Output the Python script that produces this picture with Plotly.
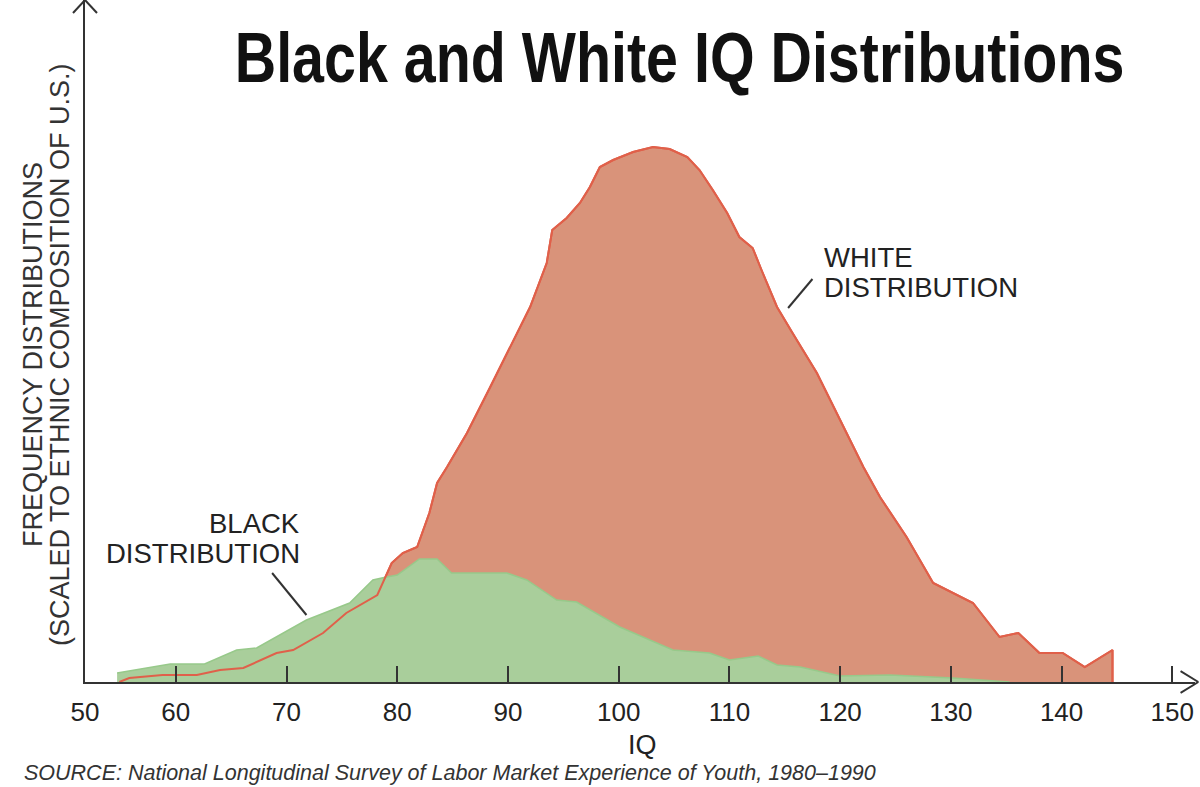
import plotly.graph_objects as go

# IQ distribution curves, heights (arbitrary frequency units)
white_iq = [54.9, 55.8, 58.8, 61.9, 64.0, 66.1, 69.1, 70.6, 73.3, 75.4, 78.2, 78.7, 79.5, 80.5,
            81.8, 82.9, 83.6, 84.5, 86.3, 88.4, 90.4, 92.0, 93.5, 94.0, 95.3, 96.5, 97.4, 98.3,
            99.5, 101.3, 103.1, 104.6, 106.2, 107.3, 108.5, 109.8, 110.9, 112.1, 112.9, 114.3,
            115.7, 117.9, 120.0, 122.1, 123.6, 126.0, 128.4, 130.2, 132.0, 134.4, 136.1, 138.0,
            140.1, 142.1, 144.6, 144.6]
white_freq = [0, 4, 7, 7, 12, 14, 29, 32, 49, 69, 87, 100, 119, 129,
              135, 169, 199, 215, 249, 295, 339, 375, 419, 452, 464, 479, 495, 515,
              522, 530, 535, 533, 525, 512, 492, 469, 445, 434, 412, 375,
              349, 309, 262, 215, 185, 145, 99, 89, 79, 45, 49, 29,
              29, 15, 32, 0]

black_iq = [54.7, 59.5, 62.6, 65.5, 67.3, 71.8, 75.7, 77.8, 78.6, 80.0, 82.0, 83.6, 84.9,
            89.9, 91.7, 94.4, 96.2, 100.1, 104.9, 108.2, 110.0, 112.6, 114.3, 116.4, 120.0,
            124.5, 130.2, 135.3]
black_freq = [9, 18, 18, 32, 34, 62, 79, 102, 104, 107, 123, 123, 109,
              109, 102, 82, 80, 55, 32, 29, 22, 26, 17, 15, 6,
              7, 4, 0]

tick_vals = [51.8, 60, 70, 80, 90, 100, 110, 120, 130, 140, 150]
tick_text = ["50", "60", "70", "80", "90", "100", "110", "120", "130", "140", "150"]

RED_FILL = "#D9937A"
RED_LINE = "#E0604A"
GREEN_FILL = "#A9CE9B"
GREEN_LINE = "#97C98A"
AXIS = "#333333"
FONT = "Liberation Sans, Arial, sans-serif"
TITLE = "Black and White IQ Distributions"

fig = go.Figure()
fig.add_trace(go.Scatter(x=white_iq, y=white_freq, mode="lines", fill="tozeroy",
                         fillcolor=RED_FILL, line=dict(color=RED_LINE, width=2),
                         name="White", hoverinfo="x+y"))
fig.add_trace(go.Scatter(x=black_iq, y=black_freq, mode="lines", fill="tozeroy",
                         fillcolor=GREEN_FILL, line=dict(color=GREEN_LINE, width=1.5),
                         name="Black", hoverinfo="x+y"))
# white outline again on top so it shows through the green area
fig.add_trace(go.Scatter(x=white_iq, y=white_freq, mode="lines",
                         line=dict(color=RED_LINE, width=2), hoverinfo="skip",
                         showlegend=False))

# labels
lab = dict(size=27.5, color="#222222", family=FONT)
fig.add_annotation(x=71.4, y=159, text="BLACK", showarrow=False, xanchor="right", font=lab)
fig.add_annotation(x=71.4, y=129, text="DISTRIBUTION", showarrow=False, xanchor="right", font=lab)
fig.add_annotation(x=118.4, y=425, text="WHITE", showarrow=False, xanchor="left", font=lab)
fig.add_annotation(x=118.4, y=395, text="DISTRIBUTION", showarrow=False, xanchor="left", font=lab)
fig.add_shape(type="line", x0=68.7, y0=109, x1=71.8, y1=67, line=dict(color=AXIS, width=2))
fig.add_shape(type="line", x0=115.3, y0=374, x1=117.5, y1=403, line=dict(color=AXIS, width=2))

# title, axis titles, source
fig.add_annotation(xref="paper", yref="paper", x=0.536, y=0.915, xanchor="center", yanchor="middle",
                   showarrow=False, text="<b>" + TITLE + "</b>",
                   font=dict(size=70, color="#111111", family=FONT))
ytitle = dict(size=27, color="#333333", family=FONT)
fig.add_annotation(xref="paper", yref="paper", x=-0.0468, y=0.4795, xanchor="center", yanchor="middle",
                   showarrow=False, text="FREQUENCY DISTRIBUTIONS", textangle=-90, font=ytitle)
fig.add_annotation(xref="paper", yref="paper", x=-0.0225, y=0.4795, xanchor="center", yanchor="middle",
                   showarrow=False, text="(SCALED TO ETHNIC COMPOSITION OF U.S.)", textangle=-90,
                   font=ytitle)
fig.add_annotation(xref="paper", yref="paper", x=0.5027, y=-0.0924, xanchor="center", yanchor="middle",
                   showarrow=False, text="IQ", font=dict(size=27, color="#222222", family=FONT))
fig.add_annotation(xref="paper", yref="paper", x=-0.0568, y=-0.1334, xanchor="left", yanchor="middle",
                   showarrow=False,
                   text="<i>SOURCE: National Longitudinal Survey of Labor Market Experience of Youth, 1980–1990</i>",
                   font=dict(size=21.5, color="#333333", family=FONT))

# arrow heads at the ends of the axes
arrow = dict(color=AXIS, width=2)
fig.add_shape(type="line", xref="paper", yref="paper", x0=-0.0108, y0=0.981, x1=0, y1=1.0, line=arrow)
fig.add_shape(type="line", xref="paper", yref="paper", x0=0.0108, y0=0.981, x1=0, y1=1.0, line=arrow)
fig.add_shape(type="line", xref="paper", yref="paper", x0=0.987, y0=0.016, x1=1.003, y1=0, line=arrow)
fig.add_shape(type="line", xref="paper", yref="paper", x0=0.987, y0=-0.016, x1=1.003, y1=0, line=arrow)

fig.update_layout(
    width=1200, height=787,
    margin=dict(l=85, r=5, t=0, b=105),
    paper_bgcolor="white", plot_bgcolor="white",
    showlegend=False,
    font=dict(family=FONT),
    xaxis=dict(range=[51.8, 152.05], tickvals=tick_vals, ticktext=tick_text,
               ticks="inside", ticklen=16, tickwidth=2, tickcolor=AXIS,
               showline=True, linecolor=AXIS, linewidth=2, showgrid=False, zeroline=False,
               tickfont=dict(size=26, color="#222222", family=FONT), ticklabelstandoff=6),
    yaxis=dict(range=[0, 682], showline=True, linecolor=AXIS, linewidth=2,
               showgrid=False, zeroline=False, showticklabels=False, ticks=""),
)

# no page margin, and squeeze the title horizontally like the condensed face of the original
post = """
document.body.style.margin = '0';
document.querySelectorAll('text.annotation-text').forEach(function (t) {
  if (t.textContent.indexOf('Black and White') === 0) {
    t.style.transformBox = 'fill-box';
    t.style.transformOrigin = 'center';
    t.style.transform = 'scaleX(0.82)';
  }
});
"""

fig.write_html("out.html", post_script=post, config={"displayModeBar": False})
